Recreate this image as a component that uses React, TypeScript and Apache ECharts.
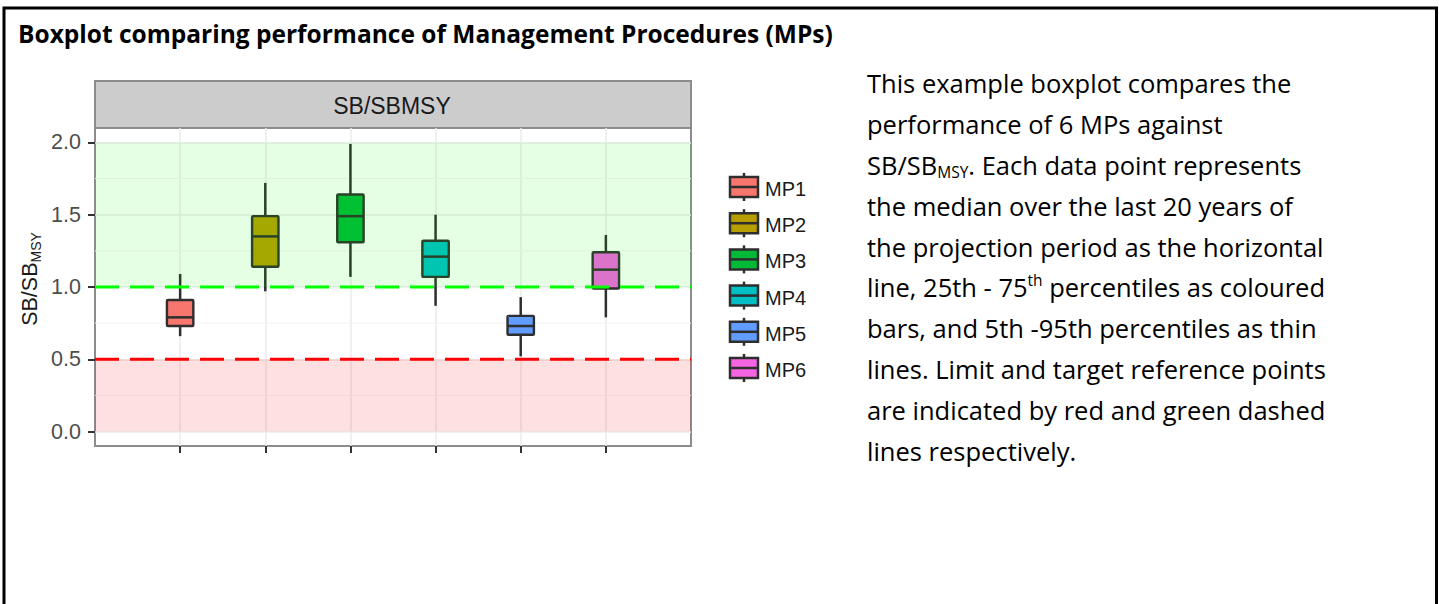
import React, { useEffect, useRef } from 'react';
import * as echarts from 'echarts';

// ---- data ----
const categories = ['MP1', 'MP2', 'MP3', 'MP4', 'MP5', 'MP6'];
const p05 = [0.66, 0.97, 1.07, 0.87, 0.52, 0.79];
const p25 = [0.73, 1.14, 1.31, 1.07, 0.67, 0.99];
const p50 = [0.79, 1.35, 1.49, 1.21, 0.73, 1.12];
const p75 = [0.91, 1.49, 1.64, 1.32, 0.80, 1.24];
const p95 = [1.09, 1.72, 1.99, 1.50, 0.93, 1.36];
const boxColors = ['#F8766D', '#B79F00', '#00BA38', '#00BFC4', '#619CFF', '#F564E3'];
const yTicks = [0, 0.5, 1.0, 1.5, 2.0];
const yMinorBreaks = [0.25, 0.75, 1.25, 1.75];
const yRange = [-0.1, 2.1];
const limitRefPoint = 0.5;
const targetRefPoint = 1.0;
const targetZone = [1.0, 2.0];
const limitZone = [0.0, 0.5];
const refLineColors = ['#FF0000', '#00FF00'];
const zoneFills = ['rgba(0,255,0,0.10)', 'rgba(255,0,0,0.12)'];

const titleText = 'Boxplot comparing performance of Management Procedures (MPs)';
const stripText = 'SB/SBMSY';
const noteLines = [
  'This example boxplot compares the',
  'performance of 6 MPs against',
  'SB/SB{sub|MSY}. Each data point represents',
  'the median over the last 20 years of',
  'the projection period as the horizontal',
  'line, 25th - 75{sup|th} percentiles as coloured',
  'bars, and 5th -95th percentiles as thin',
  'lines. Limit and target reference points',
  'are indicated by red and green dashed',
  'lines respectively.',
];

const axisFont = '"Liberation Sans", Arial, sans-serif';
const noteFont = '"Open Sans", Lato, sans-serif';

export default function App() {
  const ref = useRef<HTMLDivElement>(null);

  useEffect(() => {
    document.body.style.margin = '0';
    const chart = echarts.init(ref.current!, null, { renderer: 'svg' });

    const xCats = [' ', ...categories, '  '];
    const inner = (i: number) => i >= 1 && i <= categories.length;

    const boxData = categories.map((c, i) => [c, p05[i], p25[i], p50[i], p75[i], p95[i]]);
    const dark = '#2e2e2e';

    const legendGraphics: any[] = [];
    categories.forEach((name, i) => {
      const cy = 187 + i * 36.2;
      legendGraphics.push(
        { type: 'line', shape: { x1: 744, y1: cy - 14, x2: 744, y2: cy + 14 }, style: { stroke: dark, lineWidth: 2.5 } },
        { type: 'rect', shape: { x: 730, y: cy - 10, width: 28, height: 20 }, style: { fill: boxColors[i], stroke: dark, lineWidth: 2.5 } },
        { type: 'line', shape: { x1: 730, y1: cy, x2: 758, y2: cy }, style: { stroke: dark, lineWidth: 2.5 } },
        { type: 'text', x: 765, y: cy + 2, style: { text: name, fontFamily: axisFont, fontSize: 20, fill: '#1a1a1a', align: 'left', verticalAlign: 'middle' } },
      );
    });

    const noteGraphics = noteLines.map((line, i) => ({
      type: 'text',
      x: 867,
      y: 83.3 + i * 40.8,
      style: {
        text: line,
        fontFamily: noteFont,
        fontSize: 25.5,
        lineHeight: 30,
        fill: '#000',
        align: 'left',
        verticalAlign: 'middle',
        rich: {
          sub: { fontFamily: noteFont, fontSize: 15.5, lineHeight: 18, verticalAlign: 'bottom', fill: '#000' },
          sup: { fontFamily: noteFont, fontSize: 15.5, lineHeight: 12, verticalAlign: 'top', fill: '#000' },
        },
      },
    }));

    const option: any = {
      animation: false,
      backgroundColor: '#ffffff',
      grid: {
        left: 95, top: 128, width: 596, height: 318,
        show: true, borderColor: '#8c8c8c', borderWidth: 2, backgroundColor: 'transparent',
      },
      xAxis: {
        type: 'category',
        data: xCats,
        boundaryGap: false,
        position: 'bottom',
        axisLine: { show: false, onZero: false },
        axisLabel: { show: false },
        axisTick: { show: true, interval: (i: number) => inner(i), length: 7, lineStyle: { color: '#333', width: 2 } },
        splitLine: { show: true, interval: (i: number) => inner(i), lineStyle: { color: '#EBEBEB', width: 1.5 } },
      },
      yAxis: {
        type: 'value',
        min: yRange[0],
        max: yRange[1],
        axisLine: { show: false, onZero: false },
        axisTick: { show: true, customValues: yTicks, length: 7, lineStyle: { color: '#333', width: 2 } },
        axisLabel: {
          show: true, customValues: yTicks, margin: 14,
          formatter: (v: number) => v.toFixed(1),
          fontFamily: axisFont, fontSize: 21.5, color: '#4d4d4d',
        },
        splitLine: { show: true, lineStyle: { color: '#EBEBEB', width: 1.5 } },
      },
      series: [
        {
          type: 'custom',
          name: 'minor',
          z: 1,
          silent: true,
          data: yMinorBreaks.map((v) => [0, v]),
          encode: { x: 0, y: 1 },
          renderItem: (params: any, api: any) => {
            const cs = params.coordSys;
            const y = api.coord([0, api.value(1)])[1];
            return { type: 'line', shape: { x1: cs.x, y1: y, x2: cs.x + cs.width, y2: y }, style: { stroke: '#F4F4F4', lineWidth: 1 } };
          },
        },
        {
          type: 'custom',
          name: 'SB/SBMSY',
          z: 2,
          data: boxData,
          encode: { x: 0, y: [1, 2, 3, 4, 5] },
          renderItem: (params: any, api: any) => {
            const xi = api.value(0);
            const pt = (d: number) => api.coord([xi, api.value(d)]);
            const [cx, yLo] = pt(1);
            const yQ1 = pt(2)[1];
            const yMed = pt(3)[1];
            const yQ3 = pt(4)[1];
            const yHi = pt(5)[1];
            const bw = api.size([1, 0])[0] * 0.31;
            const color = boxColors[params.dataIndex];
            return {
              type: 'group',
              children: [
                { type: 'line', shape: { x1: cx, y1: yQ3, x2: cx, y2: yHi }, style: { stroke: dark, lineWidth: 2.5 } },
                { type: 'line', shape: { x1: cx, y1: yQ1, x2: cx, y2: yLo }, style: { stroke: dark, lineWidth: 2.5 } },
                { type: 'rect', shape: { x: cx - bw / 2, y: yQ3, width: bw, height: yQ1 - yQ3, r: 1 }, style: { fill: color, stroke: dark, lineWidth: 2.4 } },
                { type: 'line', shape: { x1: cx - bw / 2, y1: yMed, x2: cx + bw / 2, y2: yMed }, style: { stroke: dark, lineWidth: 2.5 } },
              ],
            };
          },
        },
        {
          type: 'custom',
          name: 'zones',
          z: 3,
          silent: true,
          data: [[0, targetZone[0], targetZone[1]], [0, limitZone[0], limitZone[1]]],
          encode: { x: 0, y: [1, 2] },
          renderItem: (params: any, api: any) => {
            const cs = params.coordSys;
            const y0 = api.coord([0, api.value(1)])[1];
            const y1 = api.coord([0, api.value(2)])[1];
            return { type: 'rect', shape: { x: cs.x, y: y1, width: cs.width, height: y0 - y1 }, style: { fill: zoneFills[params.dataIndex] } };
          },
        },
        {
          type: 'custom',
          name: 'refs',
          z: 4,
          silent: true,
          data: [[0, limitRefPoint], [0, targetRefPoint]],
          encode: { x: 0, y: 1 },
          renderItem: (params: any, api: any) => {
            const cs = params.coordSys;
            const y = api.coord([0, api.value(1)])[1];
            return {
              type: 'line',
              shape: { x1: cs.x, y1: y, x2: cs.x + cs.width, y2: y },
              style: { stroke: refLineColors[params.dataIndex], lineWidth: 3, lineDash: [24, 11] },
            };
          },
        },
      ],
      graphic: [
        { type: 'polyline', shape: { points: [[4, 604], [4, 8], [1436.5, 8], [1436.5, 604]] }, style: { stroke: '#000', lineWidth: 3, fill: 'none' } },
        { type: 'text', x: 18, y: 33, style: { text: titleText, fontFamily: noteFont, fontWeight: 'bold', fontSize: 24.5, fill: '#000', align: 'left', verticalAlign: 'middle' } },
        { type: 'rect', shape: { x: 95, y: 81, width: 596, height: 47 }, style: { fill: '#CCCCCC', stroke: '#8c8c8c', lineWidth: 2 } },
        { type: 'text', x: 392, y: 106, style: { text: stripText, fontFamily: axisFont, fontSize: 23, fill: '#1a1a1a', align: 'center', verticalAlign: 'middle' } },
        {
          type: 'text', x: 30, y: 279, rotation: Math.PI / 2,
          style: {
            text: '{a|SB/SB}{b|MSY}', align: 'center', verticalAlign: 'middle',
            rich: {
              a: { fontFamily: axisFont, fontSize: 21.5, lineHeight: 26, fill: '#1a1a1a' },
              b: { fontFamily: axisFont, fontSize: 14, lineHeight: 16, verticalAlign: 'bottom', fill: '#1a1a1a' },
            },
          },
        },
        ...legendGraphics,
        ...noteGraphics,
      ],
    };

    chart.setOption(option);
    return () => chart.dispose();
  }, []);

  return <div ref={ref} style={{ width: 1439, height: 604 }} />;
}
